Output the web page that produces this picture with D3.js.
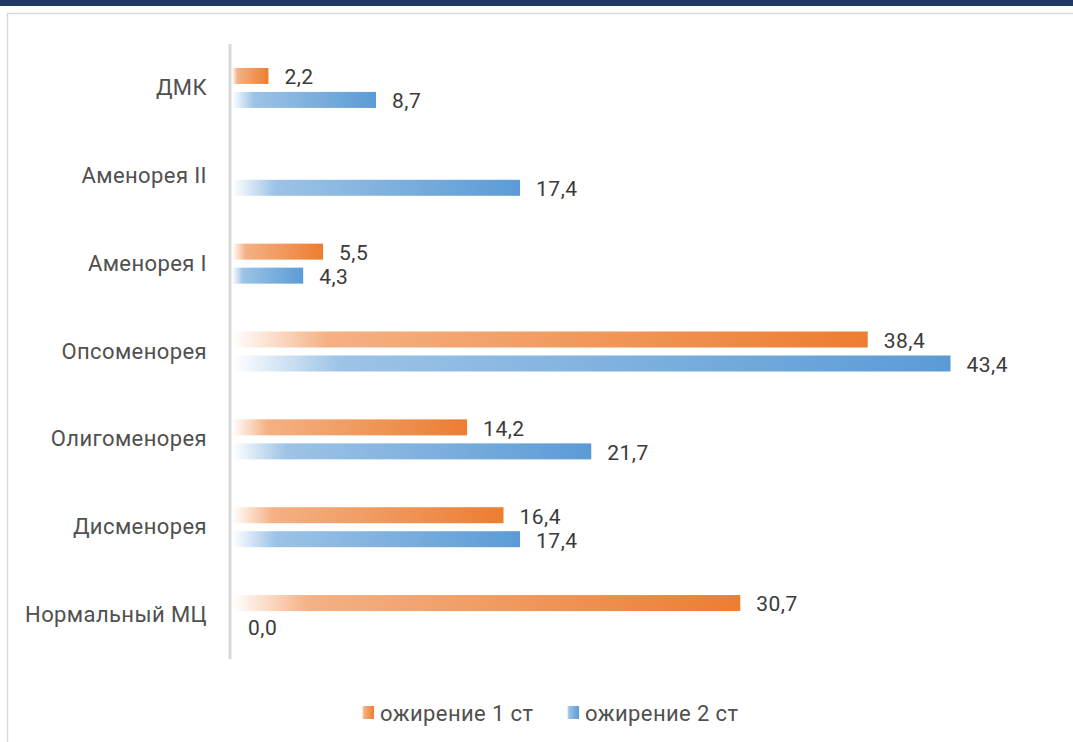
<!DOCTYPE html>
<html><head><meta charset="utf-8">
<script src="https://cdn.jsdelivr.net/npm/d3@7"></script>
<style>body{margin:0;background:#fff;}svg{display:block;}</style>
</head><body>
<svg id="c" width="1073" height="742"></svg>
<script>
const categories = ["ДМК","Аменорея II","Аменорея I","Опсоменорея","Олигоменорея","Дисменорея","Нормальный МЦ"];
const series1 = [2.2, null, 5.5, 38.4, 14.2, 16.4, 30.7];
const series2 = [8.7, 17.4, 4.3, 43.4, 21.7, 17.4, 0.0];
const seriesNames = ["ожирение 1 ст","ожирение 2 ст"];
const colors = ["#ED7D31","#5B9BD5"];
const lightColors = ["#F4B184","#9DC3E6"];

const svg = d3.select("#c");
const font = "Roboto, 'Open Sans', sans-serif";

svg.append("rect").attr("x",0).attr("y",0).attr("width",1073).attr("height",6).attr("fill","#1F3864");
svg.append("rect").attr("x",7.5).attr("y",13.5).attr("width",1080).attr("height",740)
  .attr("fill","none").attr("stroke","#d9d9d9").attr("stroke-width",1.5);

const defs = svg.append("defs");
colors.forEach((c,i)=>{
  const g = defs.append("linearGradient").attr("id","g"+i).attr("x1","0").attr("x2","1").attr("y1","0").attr("y2","0");
  g.append("stop").attr("offset","0").attr("stop-color","#ffffff");
  g.append("stop").attr("offset","0.15").attr("stop-color",lightColors[i]);
  g.append("stop").attr("offset","1").attr("stop-color",c);
});

const x = d3.scaleLinear().domain([0,45]).range([232,977]);
const y = d3.scaleBand().domain(categories).range([44,659]);

const data = [series1, series2];
const offsets = [-20, 4];
const barH = 16;

data.forEach((s,si)=>{
  const gs = svg.append("g");
  categories.forEach((cat,ci)=>{
    const v = s[ci];
    if (v === null) return;
    const yc = y(cat) + y.bandwidth()/2 + offsets[si];
    if (v > 0) {
      gs.append("rect").attr("x",x(0)).attr("y",yc).attr("width",x(v)-x(0)).attr("height",barH)
        .attr("fill","url(#g"+si+")");
    }
    gs.append("text").attr("x",x(v)+16).attr("y",yc+barH/2+1).attr("dy","0.35em")
      .attr("font-family",font).attr("font-size",21).attr("font-weight",400).attr("fill","#3a3a3a")
      .attr("letter-spacing","0.5px")
      .text(d3.format(".1f")(v).replace(".",","));
  });
});

// axis line
svg.append("line").attr("x1",230).attr("x2",230).attr("y1",44).attr("y2",659)
  .attr("stroke","#d9d9d9").attr("stroke-width",3);

// category labels
const yAxis = d3.axisLeft(y).tickSize(0).tickPadding(0);
const ag = svg.append("g").attr("transform","translate(207,0)").call(yAxis);
ag.select(".domain").remove();
ag.selectAll("text").attr("font-family",font).attr("font-size",22).attr("font-weight",400)
  .attr("letter-spacing","0.4px").attr("fill","#505050");

// legend
const legX = [362, 567];
seriesNames.forEach((n,i)=>{
  svg.append("rect").attr("x",legX[i]).attr("y",706).attr("width",12).attr("height",13).attr("fill","url(#g"+i+")");
  svg.append("text").attr("x",legX[i]+18).attr("y",713).attr("dy","0.35em")
    .attr("font-family",font).attr("font-size",22).attr("font-weight",400).attr("letter-spacing","0.4px")
    .attr("fill","#505050").text(n);
});
</script>
</body></html>
